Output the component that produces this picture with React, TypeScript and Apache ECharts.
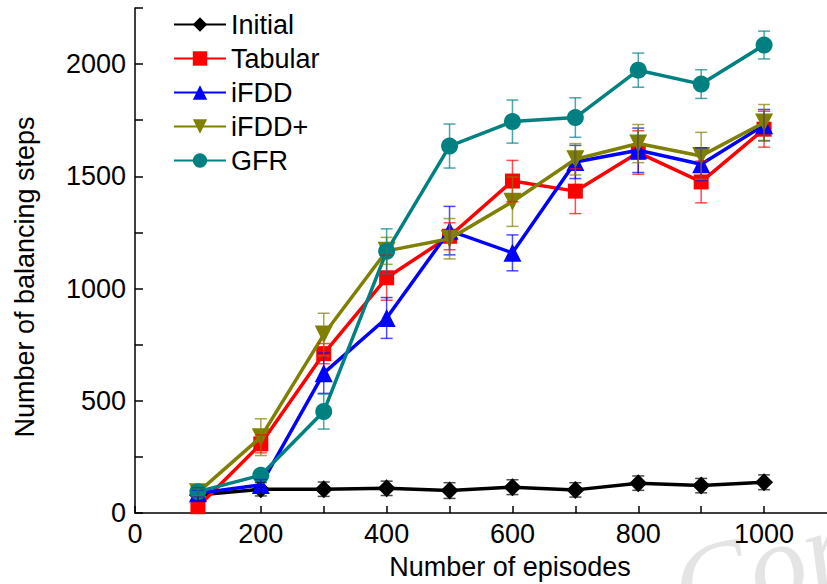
import React, { useEffect, useRef } from "react";
import * as echarts from "echarts";

const episodes = [100, 200, 300, 400, 500, 600, 700, 800, 900, 1000];
const seriesNames = ["Initial", "Tabular", "iFDD", "iFDD+", "GFR"];
const initialVals = [80, 106, 106, 110, 100, 115, 103, 133, 122, 137];
const initialErr = [30, 30, 32, 32, 35, 33, 32, 32, 32, 33];
const tabularVals = [28, 308, 710, 1048, 1233, 1479, 1434, 1606, 1475, 1710];
const tabularErr = [20, 40, 45, 100, 60, 92, 100, 97, 93, 80];
const ifddVals = [88, 125, 623, 869, 1258, 1159, 1564, 1616, 1554, 1728];
const ifddErr = [15, 25, 90, 91, 108, 80, 74, 99, 73, 70];
const ifddPlusVals = [92, 338, 795, 1168, 1222, 1387, 1576, 1646, 1591, 1740];
const ifddPlusErr = [15, 82, 95, 60, 90, 110, 70, 85, 105, 80];
const gfrVals = [95, 168, 452, 1166, 1635, 1744, 1762, 1973, 1911, 2085];
const gfrErr = [15, 15, 78, 100, 98, 96, 88, 76, 64, 62];
const colors = ["#000000", "#ff0000", "#0000ff", "#808000", "#008080"];
const symbols = [
  "diamond",
  "rect",
  "triangle",
  "path://M0,0 L10,0 L5,9 Z",
  "circle",
];
const symbolSizes = [18, 15, 18, 18, 17];

const FONT = "'Liberation Sans', Arial, sans-serif";

export default function App() {
  const ref = useRef<HTMLDivElement>(null);
  useEffect(() => {
    if (!ref.current) return;
    const chart = echarts.init(ref.current, null, { renderer: "svg" });
    const vals = [initialVals, tabularVals, ifddVals, ifddPlusVals, gfrVals];
    const errs = [initialErr, tabularErr, ifddErr, ifddPlusErr, gfrErr];

    const lineSeries: any[] = seriesNames.map((name, i) => ({
      name,
      type: "line",
      data: episodes.map((x, j) => [x, vals[i][j]]),
      symbol: symbols[i],
      symbolSize: symbolSizes[i],
      showAllSymbol: true,
      lineStyle: { color: colors[i], width: 3.5 },
      itemStyle: { color: colors[i] },
      z: 2 + i,
    }));

    const errSeries: any[] = seriesNames.map((name, i) => ({
      name: name + " err",
      type: "custom",
      data: episodes.map((x, j) => [x, vals[i][j] - errs[i][j], vals[i][j] + errs[i][j]]),
      encode: { x: 0, y: [1, 2] },
      z: 10 + i,
      silent: true,
      renderItem: (params: any, api: any) => {
        const x = api.value(0);
        const lo = api.coord([x, api.value(1)]);
        const hi = api.coord([x, api.value(2)]);
        const hw = 6;
        const style = { stroke: colors[i], lineWidth: 1.5, opacity: 0.7 };
        return {
          type: "group",
          children: [
            { type: "line", shape: { x1: lo[0], y1: lo[1], x2: hi[0], y2: hi[1] }, style },
            { type: "line", shape: { x1: lo[0] - hw, y1: lo[1], x2: lo[0] + hw, y2: lo[1] }, style },
            { type: "line", shape: { x1: hi[0] - hw, y1: hi[1], x2: hi[0] + hw, y2: hi[1] }, style },
          ],
        };
      },
    }));

    chart.setOption({
      animation: false,
      backgroundColor: "#ffffff",
      textStyle: { fontFamily: FONT },
      grid: { left: 135, top: 8, right: -4, bottom: 71, containLabel: false },
      legend: {
        data: seriesNames,
        orient: "vertical",
        left: 168,
        top: 6,
        itemWidth: 52,
        itemHeight: 18,
        itemGap: 7,
        textStyle: { fontSize: 27, fontFamily: FONT, color: "#000" },
      },
      xAxis: {
        type: "value",
        min: 0,
        max: 1100,
        interval: 100,
        splitLine: { show: false },
        axisLine: { lineStyle: { color: "#000", width: 1.5 } },
        axisTick: { inside: true, length: 7, lineStyle: { color: "#000", width: 1.5 } },
        axisLabel: {
          fontSize: 27,
          fontFamily: FONT,
          color: "#000",
          margin: 7,
          showMaxLabel: false,
          formatter: (v: number) => (v % 200 === 0 && v <= 1000 ? String(v) : ""),
        },
      },
      yAxis: {
        type: "value",
        min: 0,
        max: 2250,
        interval: 250,
        splitLine: { show: false },
        axisLine: { lineStyle: { color: "#000", width: 1.5 } },
        axisTick: { inside: true, length: 8, lineStyle: { color: "#000", width: 1.5 } },
        axisLabel: {
          fontSize: 27,
          fontFamily: FONT,
          color: "#000",
          margin: 9,
          formatter: (v: number) => (v % 500 === 0 ? String(v) : ""),
        },
      },
      graphic: [
        {
          type: "text",
          x: 510,
          y: 567,
          silent: true,
          style: {
            text: "Number of episodes",
            font: `27px ${FONT}`,
            fill: "#000",
            textAlign: "center",
            textVerticalAlign: "middle",
          },
        },
        {
          type: "text",
          x: 25,
          y: 277,
          rotation: Math.PI / 2,
          silent: true,
          style: {
            text: "Number of balancing steps",
            font: `27px ${FONT}`,
            fill: "#000",
            textAlign: "center",
            textVerticalAlign: "middle",
          },
        },
        {
          type: "text",
          x: 692,
          y: 650,
          rotation: 0.3,
          silent: true,
          z: -10,
          style: {
            text: "Cor",
            font: `italic 115px 'Liberation Serif', serif`,
            fill: "#e4e4e4",
            textAlign: "left",
            textVerticalAlign: "bottom",
          },
        },
      ],
      series: [...lineSeries, ...errSeries],
    });
    return () => chart.dispose();
  }, []);
  return (
    <div
      ref={ref}
      style={{ position: "absolute", left: 0, top: 0, width: 827, height: 584 }}
    />
  );
}
